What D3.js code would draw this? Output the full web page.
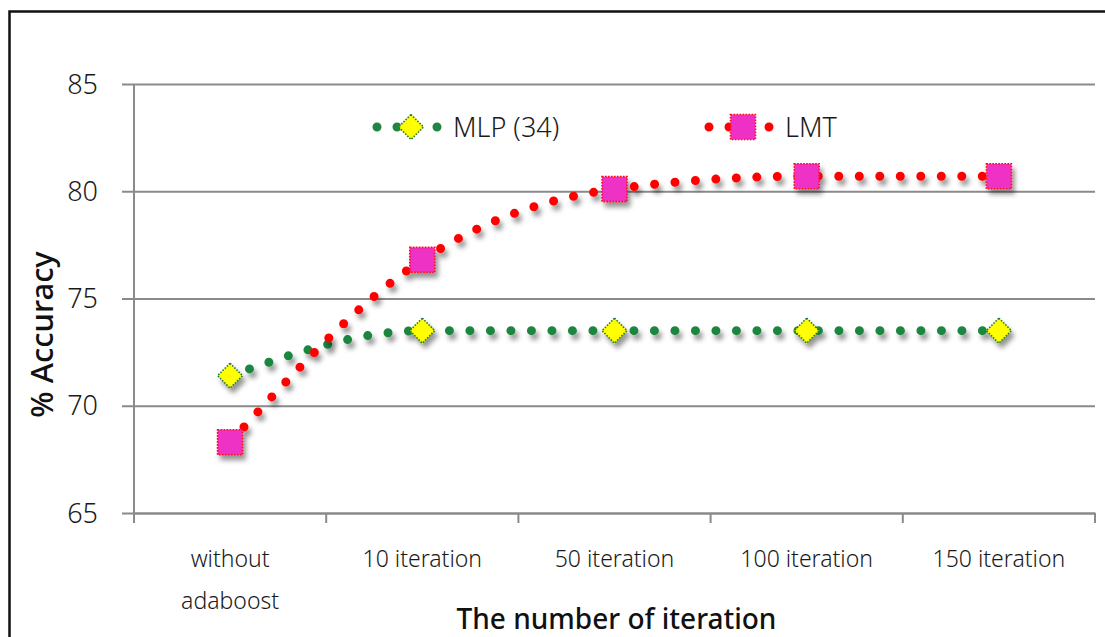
<!DOCTYPE html>
<html>
<head>
<meta charset="utf-8">
<script src="https://cdn.jsdelivr.net/npm/d3@7"></script>
<style>
  html, body { margin: 0; padding: 0; background: #fff; }
  svg { display: block; }
</style>
</head>
<body>
<svg id="chart" width="1105" height="637"></svg>
<script>
// Categories along the x axis (two-line label for the first one)
const categories = ["without adaboost", "10 iteration", "50 iteration", "100 iteration", "150 iteration"];
const categoryLines = [["without", "adaboost"], ["10 iteration"], ["50 iteration"], ["100 iteration"], ["150 iteration"]];

// Accuracy (%) per series
const mlpValues = [71.4, 73.5, 73.5, 73.5, 73.5];
const lmtValues = [68.3, 76.8, 80.1, 80.7, 80.7];

const yTicks = [65, 70, 75, 80, 85];
const seriesNames = ["MLP (34)", "LMT"];

const FONT = "'Noto Sans', 'DejaVu Sans', sans-serif";

const svg = d3.select("#chart");

const plot = { left: 134, right: 1095, top: 84, bottom: 513 };

const x = d3.scaleBand().domain(categories).range([plot.left, plot.right]).padding(0);
const y = d3.scaleLinear().domain([65, 85]).range([plot.bottom, plot.top]);

// Drop shadow used by the series lines and markers
const defs = svg.append("defs");
const shadow = defs.append("filter").attr("id", "shadow")
  .attr("x", "-30%").attr("y", "-30%").attr("width", "160%").attr("height", "180%");
shadow.append("feDropShadow")
  .attr("dx", 3).attr("dy", 5).attr("stdDeviation", 2.6)
  .attr("flood-color", "#000").attr("flood-opacity", 0.42);

// Outer frame
svg.append("rect")
  .attr("x", 9.5).attr("y", 11.5).attr("width", 1200).attr("height", 700)
  .attr("fill", "#fff").attr("stroke", "#111").attr("stroke-width", 2.5);

// Horizontal gridlines with the y axis
const yAxis = d3.axisLeft(y).tickValues(yTicks)
  .tickSize(-(plot.right - plot.left) - 12).tickPadding(24).tickFormat(d3.format("d"));
const gy = svg.append("g").attr("transform", `translate(${plot.left - 12},0)`).call(yAxis);
gy.select(".domain").remove();
gy.selectAll(".tick line").attr("stroke", "#8a8a8a").attr("stroke-width", 2);
gy.selectAll(".tick text")
  .attr("fill", "#1a1a1a").attr("font-family", FONT).attr("font-size", 27).attr("font-weight", 300)
  .attr("x", 98 - (plot.left - 12)).attr("text-anchor", "end").attr("dy", "0.34em");

// Vertical axis line (runs past the x axis as the first tick)
svg.append("line")
  .attr("x1", plot.left).attr("x2", plot.left)
  .attr("y1", y(85)).attr("y2", plot.bottom + 10)
  .attr("stroke", "#8a8a8a").attr("stroke-width", 2);

// X axis: labels at band centres, tick marks at band edges
const xAxis = d3.axisBottom(x).tickSize(0).tickFormat(() => "");
const gx = svg.append("g").attr("transform", `translate(0,${plot.bottom})`).call(xAxis);
gx.select(".domain").attr("stroke", "#8a8a8a").attr("stroke-width", 2);

const edges = categories.map(c => x(c)).concat([x.range()[1]]);
svg.append("g").selectAll("line").data(edges).join("line")
  .attr("x1", d => d).attr("x2", d => d)
  .attr("y1", plot.bottom).attr("y2", plot.bottom + 10)
  .attr("stroke", "#8a8a8a").attr("stroke-width", 2);

const xl = svg.append("g").selectAll("text").data(categories).join("text")
  .attr("x", d => x(d) + x.bandwidth() / 2)
  .attr("y", 567)
  .attr("text-anchor", "middle")
  .attr("font-family", FONT).attr("font-size", 23).attr("font-weight", 300).attr("fill", "#1a1a1a");
xl.each(function(d, i) {
  const t = d3.select(this);
  categoryLines[i].forEach((line, j) => {
    t.append("tspan").attr("x", x(d) + x.bandwidth() / 2).attr("dy", j === 0 ? 0 : 42).text(line);
  });
});

// Axis titles
svg.append("text")
  .attr("x", (plot.left + plot.right) / 2 + 2).attr("y", 629)
  .attr("text-anchor", "middle")
  .attr("font-family", FONT).attr("font-size", 28).attr("font-weight", 500).attr("fill", "#111")
  .text("The number of iteration");

svg.append("text")
  .attr("transform", `translate(53,${(plot.top + plot.bottom) / 2 + 36}) rotate(-90)`)
  .attr("text-anchor", "middle")
  .attr("font-family", FONT).attr("font-size", 31).attr("font-weight", 500).attr("fill", "#111")
  .text("% Accuracy");

// Series
const cx = d => x(d) + x.bandwidth() / 2;
const line = d3.line().curve(d3.curveMonotoneX);

const series = [
  { name: seriesNames[0], values: mlpValues, dot: "#1f8540", shape: "diamond", fill: "#ffff00", edge: "#2a7a3a" },
  { name: seriesNames[1], values: lmtValues, dot: "#ff0000", shape: "square", fill: "#ee30c6", edge: "#ff1010" }
];

function drawMarker(g, shape, px, py, s) {
  const h = 12.5;
  if (shape === "diamond") {
    g.append("path")
      .attr("d", `M${px},${py - h}L${px + h},${py}L${px},${py + h}L${px - h},${py}Z`)
      .attr("fill", s.fill).attr("stroke", s.edge).attr("stroke-width", 1.6)
      .attr("stroke-dasharray", "1.6 1.4");
  } else {
    g.append("rect")
      .attr("x", px - h).attr("y", py - h).attr("width", 2 * h).attr("height", 2 * h)
      .attr("fill", s.fill).attr("stroke", s.edge).attr("stroke-width", 1.6)
      .attr("stroke-dasharray", "1.6 1.4");
  }
}

series.forEach(s => {
  const g = svg.append("g").attr("filter", "url(#shadow)");
  const pts = categories.map((c, i) => [cx(c), y(s.values[i])]);
  g.append("path")
    .attr("d", line(pts))
    .attr("fill", "none")
    .attr("stroke", s.dot).attr("stroke-width", 9)
    .attr("stroke-linecap", "round")
    .attr("stroke-dasharray", "0 20.5");
  pts.forEach(p => drawMarker(g, s.shape, p[0], p[1], s));
});

// Legend
const legendItems = [
  { s: series[0], x0: 377, mx: 411, tx: 453 },
  { s: series[1], x0: 709, mx: 743, tx: 785 }
];
legendItems.forEach(it => {
  const ly = 127;
  const g = svg.append("g");
  g.append("line")
    .attr("x1", it.x0).attr("x2", it.x0 + 62).attr("y1", ly).attr("y2", ly)
    .attr("stroke", it.s.dot).attr("stroke-width", 9)
    .attr("stroke-linecap", "round").attr("stroke-dasharray", "0 20");
  drawMarker(g, it.s.shape, it.mx, ly, it.s);
  g.append("text")
    .attr("x", it.tx).attr("y", ly).attr("dy", "0.36em")
    .attr("font-family", FONT).attr("font-size", 27).attr("font-weight", 300).attr("fill", "#1a1a1a")
    .text(it.s.name);
});
</script>
</body>
</html>
